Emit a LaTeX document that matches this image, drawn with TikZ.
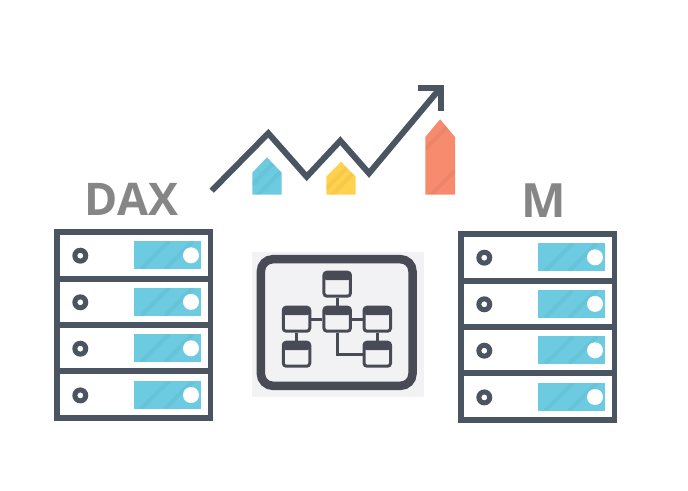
\documentclass[tikz,border=0pt]{standalone}
\usepackage{fontspec}
\usepackage{xcolor}
\setsansfont{Open Sans}
\usetikzlibrary{positioning, calc}

\definecolor{slate}{HTML}{4A5561}
\definecolor{iconDark}{HTML}{484B55}
\definecolor{panel}{HTML}{F2F2F5}
\definecolor{skyblue}{HTML}{6CCBE0}
\definecolor{sunyellow}{HTML}{FFD24D}
\definecolor{coral}{HTML}{F68B6D}
\definecolor{labelgray}{HTML}{868686}

\tikzset{
	rackline/.style={draw=slate, line width=5.8pt},
	chartline/.style={draw=slate, line width=6pt, miter limit=10},
	rackslot/.style={fill=skyblue},
	rackled/.style={fill=white, draw=none},
	rackring/.style={fill=slate, even odd rule},
	stripe/.style={draw=black, opacity=0.04, line width=4pt},
	flowbox/.style={draw=iconDark, line width=3pt, rounded corners=3pt, fill=panel,
		minimum width=26.5pt, minimum height=24pt, inner sep=0pt,
		path picture={\fill[iconDark] (path picture bounding box.north west) rectangle
			($(path picture bounding box.north east)+(0,-8pt)$);}},
	flowlink/.style={draw=iconDark, line width=3.2pt},
	caption/.style={text=labelgray, font=\sffamily\bfseries\fontsize{45}{45}\selectfont, inner sep=0pt}
}

% one rack of four rows, corner at (#1,#2)
\newcommand{\rack}[2]{
	\begin{scope}[shift={(#1,#2)}]
		\draw[rackline] (0,0) rectangle (153.5,186);
		\draw[rackline] (0,46.7) -- (153.5,46.7);
		\draw[rackline] (0,93) -- (153.5,93);
		\draw[rackline] (0,139.3) -- (153.5,139.3);
		\foreach \rowy in {0,46.6,93,139.7} {
			\begin{scope}[yshift=-\rowy pt]
				\fill[rackslot] (76.5,9.3) rectangle (144,37);
				\begin{scope}
					\clip (76.5,9.3) rectangle (144,37);
					\draw[stripe] (84,37) -- (112,9.3);
					\draw[stripe] (108,37) -- (136,9.3);
				\end{scope}
				\fill[rackled] (134,23.3) circle (8);
				\fill[rackring] (23.3,23.7) circle (8) circle (3);
			\end{scope}
		}
	\end{scope}
}

% a bar with a pointed top: left, right, tip, shoulder, foot, colour
\newcommand{\housebar}[6]{
	\fill[#6] (#1,#5) -- (#1,#4) -- ({(#1+#2)/2},#3) -- (#2,#4) -- (#2,#5) -- cycle;
	\begin{scope}
		\clip (#1,#5) -- (#1,#4) -- ({(#1+#2)/2},#3) -- (#2,#4) -- (#2,#5) -- cycle;
		\draw[stripe] (#1,#4+12) -- (#2,#4-18);
		\draw[stripe] (#1,#5+6) -- (#2,#5-24);
	\end{scope}
}

\begin{document}
\begin{tikzpicture}[x=1pt,y=-1pt]
	\useasboundingbox (0,0) rectangle (688,490);

	% Racks
	\rack{57}{232}
	\rack{461}{234}
	\node[caption] (dax) at (131.5,199) {DAX};
	\node[caption, scale=1.05] (m) at (544,200.5) {M};

	% Chart
	\housebar{252.3}{281.7}{157.3}{172.7}{194.7}{skyblue}
	\housebar{326.3}{355.7}{161.7}{176.7}{194.7}{sunyellow}
	\housebar{425.3}{455}{119.3}{137}{194.7}{coral}
	\draw[chartline] (211.7,190.7) -- (268.3,133.3) -- (306.7,176.7) -- (340.3,140.7) -- (369,173.3) -- (439.5,89);
	\draw[chartline] (418,87.8) -- (441,87.8) -- (441,111);

	% Model panel
	\fill[panel] (252,252) rectangle (424,396.7);
	\draw[iconDark, line width=8.5pt, rounded corners=12pt] (260.9,259.2) rectangle (412.5,385.8);

	\node[flowbox] (top) at (337.2,284.2) {};
	\node[flowbox] (mid) at (337.2,319.2) {};
	\node[flowbox] (left) at (296.5,319.2) {};
	\node[flowbox] (right) at (377.3,319.2) {};
	\node[flowbox] (leftlow) at (296.5,354.2) {};
	\node[flowbox] (rightlow) at (377.3,354.2) {};

	\draw[flowlink] (top) -- (mid);
	\draw[flowlink] (left) -- (mid);
	\draw[flowlink] (mid) -- (right);
	\draw[flowlink] (left) -- (leftlow);
	\draw[flowlink] (right) -- (rightlow);
	\draw[flowlink] (mid) |- (rightlow);
\end{tikzpicture}
\end{document}
